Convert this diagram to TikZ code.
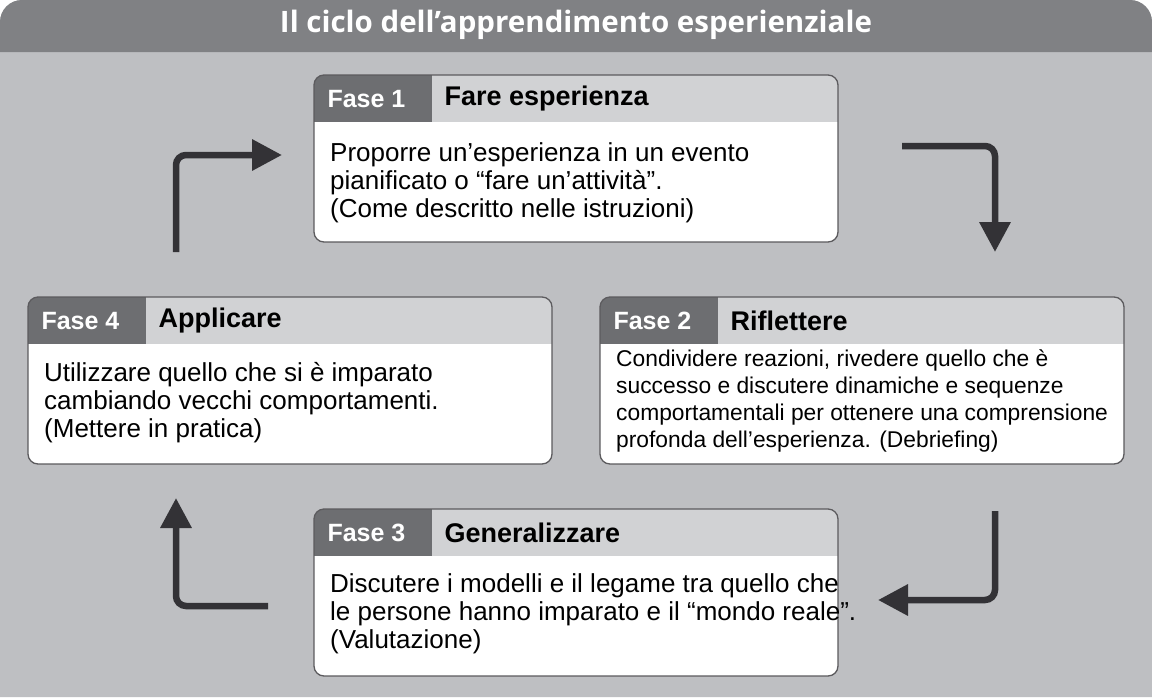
\documentclass[tikz,border=0pt]{standalone}
\usepackage{fontspec}
\setmainfont{Liberation Sans}
\newfontfamily\titlefont{Open Sans}
\usetikzlibrary{arrows.meta}
\definecolor{bg}{HTML}{BEBFC2}
\definecolor{hdr}{HTML}{808184}
\definecolor{tag}{HTML}{6D6E71}
\definecolor{lhdr}{HTML}{D1D2D4}
\definecolor{arr}{HTML}{333236}
\begin{document}
\begin{tikzpicture}[x=1pt,y=-1pt,
  flow/.style={line width=6.5pt,arr,rounded corners=10pt,-{Triangle[length=30pt,width=30pt]}},
  hd/.style={anchor=west,font=\fontsize{27}{30}\selectfont\bfseries},
  tg/.style={anchor=west,white,font=\fontsize{25}{30}\selectfont\bfseries},
  bd/.style={anchor=north west,align=left,inner sep=0pt,font=\fontsize{26}{28}\selectfont}]
\useasboundingbox (0,0) rectangle (1152,697);
\fill[bg,rounded corners=22pt] (0,52) -- (0,0) -- (1152,0) -- (1152,52) [sharp corners] -- (1152,697) -- (0,697) -- cycle;
\fill[hdr,rounded corners=22pt] (0,52) -- (0,0) -- (1152,0) [sharp corners] -- (1152,52) -- cycle;
\node[white,font=\titlefont\bfseries\fontsize{29.5}{32}\selectfont] (title) at (576,25) {Il ciclo dell’apprendimento esperienziale};
% boxes
\foreach \n/\x/\y/\f/\h in {b1/314/75/1/Fare esperienza,b2/600/297/2/Riflettere,b3/314/509/3/Generalizzare,b4/28/297/4/Applicare}{
  \begin{scope}
    \clip[rounded corners=10pt] (\x,\y) rectangle ++(524,167);
    \fill[white] (\x,\y) rectangle ++(524,167);
    \fill[lhdr] (\x,\y) rectangle ++(524,47);
    \fill[tag] (\x,\y) rectangle ++(118,47);
  \end{scope}
  \draw[arr!80,line width=1.3pt,rounded corners=10pt] (\x,\y) rectangle ++(524,167);
  \node[tg] (\n tag) at ([xshift=10pt,yshift=-24pt]\x,\y) {Fase \f};
  \node[hd] (\n head) at ([xshift=127pt,yshift=-24pt]\x,\y) {\h};
}
\node[bd] (t1) at (330,142) {Proporre un’esperienza in un evento\\pianificato o “fare un’attività”.\\(Come descritto nelle istruzioni)};
\node[bd,font=\fontsize{22.8}{27}\selectfont] (t2) at (616,350) {Condividere reazioni, rivedere quello che è\\successo e discutere dinamiche e sequenze\\comportamentali per ottenere una comprensione\\profonda dell’esperienza. (Debriefing)};
\node[bd] (t3) at (330,573) {Discutere i modelli e il legame tra quello che\\le persone hanno imparato e il “mondo reale”.\\(Valutazione)};
\node[bd] (t4) at (44,362) {Utilizzare quello che si è imparato\\cambiando vecchi comportamenti.\\(Mettere in pratica)};
% arrows
\coordinate (a1s) at (176,252); \coordinate (a1e) at (282,155);
\coordinate (a2s) at (902,146); \coordinate (a2e) at (995,252);
\coordinate (a3s) at (995,511); \coordinate (a3e) at (878,600);
\coordinate (a4s) at (268,606); \coordinate (a4e) at (176,498);
\draw[flow] (a1s) |- (a1e);
\draw[flow] (a2s) -| (a2e);
\draw[flow] (a3s) |- (a3e);
\draw[flow] (a4s) -| (a4e);
\end{tikzpicture}
\end{document}
